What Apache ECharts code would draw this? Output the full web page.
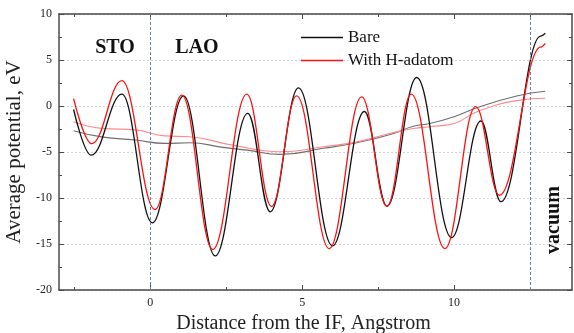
<!DOCTYPE html>
<html>
<head>
<meta charset="utf-8">
<script src="https://cdn.jsdelivr.net/npm/echarts@6/dist/echarts.min.js"></script>
<style>
  html, body { margin: 0; padding: 0; background: #fff; }
  #chart { width: 574px; height: 333px; }
</style>
</head>
<body>
<div id="chart"></div>
<script>
// values: [distance, potential] at the turning points
const seriesNames = ['Bare', 'With H-adatom'];

const bare = [
  [-2.52, -0.38], [-1.94, -5.35], [-0.93, 1.28], [0.07, -12.7], [1.1, 1.09],
  [2.14, -16.3], [3.21, -0.8], [3.95, -11.5], [4.88, 1.96], [6.0, -15.2],
  [7.05, -0.6], [7.79, -10.9], [8.77, 3.1], [9.92, -14.3], [10.88, -1.63],
  [11.54, -10.4], [12.85, 7.6], [13.0, 7.9]
];

const hAdatom = [
  [-2.52, 0.8], [-1.92, -4.1], [-0.93, 2.75], [0.16, -11.25], [1.04, 1.19],
  [2.06, -15.6], [3.18, 1.3], [3.99, -10.9], [4.82, 1.09], [5.89, -15.5],
  [6.96, 1.0], [7.79, -10.9], [8.59, 1.3], [9.7, -15.5], [10.71, -0.07],
  [11.49, -9.7], [12.85, 6.4], [13.0, 6.8]
];

const bareAvg = [
  [-2.52, -2.68], [-1.59, -3.36], [-0.49, -3.7], [0.49, -4.06], [1.3, -4.0],
  [2.4, -4.5], [3.2, -4.8], [4.28, -5.26], [5.69, -4.6], [6.8, -4.0],
  [7.9, -3.1], [8.66, -2.2], [9.2, -1.9], [10.0, -1.16], [10.75, -0.2],
  [12.06, 1.09], [13.0, 1.6]
];

const hAdatomAvg = [
  [-2.52, -1.71], [-1.59, -2.43], [-0.49, -2.6], [0.49, -3.25], [1.3, -3.35],
  [2.7, -4.25], [4.28, -4.97], [5.69, -4.43], [6.8, -3.9], [7.9, -2.97],
  [8.66, -2.45], [9.2, -2.25], [10.0, -1.9], [10.75, -0.62], [12.06, 0.58],
  [13.0, 0.84]
];

const xMajorTicks = [0, 5, 10];
const xMinorTicks = [-2.5, 2.5, 7.5, 12.5];
const boundaries = [0, 12.5];

const font = "'Liberation Serif', 'Times New Roman', serif";
const frame = '#4a4a4a';

const chart = echarts.init(document.getElementById('chart'));

const xBase = { type: 'value', min: -3, max: 13.88, splitLine: { show: false } };
const yBase = { type: 'value', min: -20, max: 10, interval: 5 };
const frameLine = { show: true, onZero: false, lineStyle: { color: frame, width: 1.5 } };
const plotBox = { left: 59, right: 2, top: 14, bottom: 43, containLabel: false, outerBoundsMode: 'none' };

const option = {
  backgroundColor: '#fff',
  animation: false,
  grid: [Object.assign({}, plotBox), Object.assign({}, plotBox)],
  legend: {
    data: seriesNames,
    orient: 'vertical',
    left: 301,
    top: 29,
    padding: 0,
    icon: 'rect',
    itemWidth: 42,
    itemHeight: 1.4,
    itemGap: 6,
    textStyle: { fontFamily: font, fontSize: 17, color: '#111' }
  },
  xAxis: [
    Object.assign({}, xBase, {
      gridIndex: 0, position: 'bottom',
      name: 'Distance from the IF, Angstrom',
      nameLocation: 'middle', nameGap: 22,
      nameTextStyle: { fontFamily: font, fontSize: 20, color: '#222', padding: [0, 24, 0, 0] },
      axisLine: frameLine,
      axisTick: { inside: true, length: 5, customValues: xMajorTicks, lineStyle: { color: frame } },
      axisLabel: { customValues: xMajorTicks, fontFamily: font, fontSize: 12, color: '#222', margin: 7 }
    }),
    Object.assign({}, xBase, {
      gridIndex: 0, position: 'top',
      axisLine: frameLine,
      axisTick: { inside: true, length: 5, customValues: xMajorTicks, lineStyle: { color: frame } },
      axisLabel: { show: false }
    }),
    Object.assign({}, xBase, {
      gridIndex: 1, position: 'bottom',
      axisLine: { show: false, onZero: false },
      axisTick: { inside: true, length: 3, customValues: xMinorTicks, lineStyle: { color: frame } },
      axisLabel: { show: false }
    }),
    Object.assign({}, xBase, {
      gridIndex: 1, position: 'top',
      axisLine: { show: false, onZero: false },
      axisTick: { inside: true, length: 3, customValues: xMinorTicks, lineStyle: { color: frame } },
      axisLabel: { show: false }
    })
  ],
  yAxis: [
    Object.assign({}, yBase, {
      gridIndex: 0, position: 'left',
      name: 'Average potential, eV',
      nameLocation: 'middle', nameGap: 28,
      nameTextStyle: { fontFamily: font, fontSize: 21, color: '#222' },
      axisLine: frameLine,
      axisTick: { inside: true, length: 5, lineStyle: { color: frame } },
      minorTick: { show: true, splitNumber: 2, length: 3, lineStyle: { color: frame } },
      axisLabel: { fontFamily: font, fontSize: 12, color: '#222', margin: 7 },
      splitLine: { show: true, lineStyle: { color: '#d4d4d4', type: [2, 2], width: 1 } }
    }),
    Object.assign({}, yBase, {
      gridIndex: 0, position: 'right',
      axisLine: frameLine,
      axisTick: { inside: true, length: 5, lineStyle: { color: frame } },
      minorTick: { show: true, splitNumber: 2, length: 3, lineStyle: { color: frame } },
      axisLabel: { show: false },
      splitLine: { show: false }
    }),
    Object.assign({}, yBase, {
      gridIndex: 1, show: false, splitLine: { show: false }
    })
  ],
  series: [
    {
      name: 'Bare avg', type: 'line', data: bareAvg, smooth: 0.5, symbol: 'none',
      xAxisIndex: 0, yAxisIndex: 0,
      lineStyle: { color: '#6e6e6e', width: 1.1 }
    },
    {
      name: 'With H-adatom avg', type: 'line', data: hAdatomAvg, smooth: 0.5, symbol: 'none',
      xAxisIndex: 0, yAxisIndex: 0,
      lineStyle: { color: '#ff8a8a', width: 1.1 }
    },
    {
      name: 'Bare', type: 'line', data: bare, smooth: 0.4, smoothMonotone: 'x', symbol: 'none',
      xAxisIndex: 0, yAxisIndex: 0,
      itemStyle: { color: '#111' },
      lineStyle: { color: '#111', width: 1.3 },
      markLine: {
        silent: true, symbol: ['none', 'none'], label: { show: false },
        lineStyle: { color: '#6d7ea0', type: [3, 2], width: 1 },
        data: boundaries.map(v => ({ xAxis: v }))
      }
    },
    {
      name: 'With H-adatom', type: 'line', data: hAdatom, smooth: 0.4, smoothMonotone: 'x', symbol: 'none',
      xAxisIndex: 0, yAxisIndex: 0,
      itemStyle: { color: '#ff1010' },
      lineStyle: { color: '#ff1010', width: 1.3 }
    }
  ],
  graphic: [
    { type: 'text', x: 115, y: 48, style: { text: 'STO', font: 'bold 20px ' + font, fill: '#111', align: 'center', verticalAlign: 'middle' } },
    { type: 'text', x: 197, y: 48, style: { text: 'LAO', font: 'bold 20px ' + font, fill: '#111', align: 'center', verticalAlign: 'middle' } },
    { type: 'text', x: 554, y: 220, rotation: Math.PI / 2, style: { text: 'vacuum', font: 'bold 20px ' + font, fill: '#111', align: 'center', verticalAlign: 'middle' } }
  ]
};

chart.setOption(option);
</script>
</body>
</html>
